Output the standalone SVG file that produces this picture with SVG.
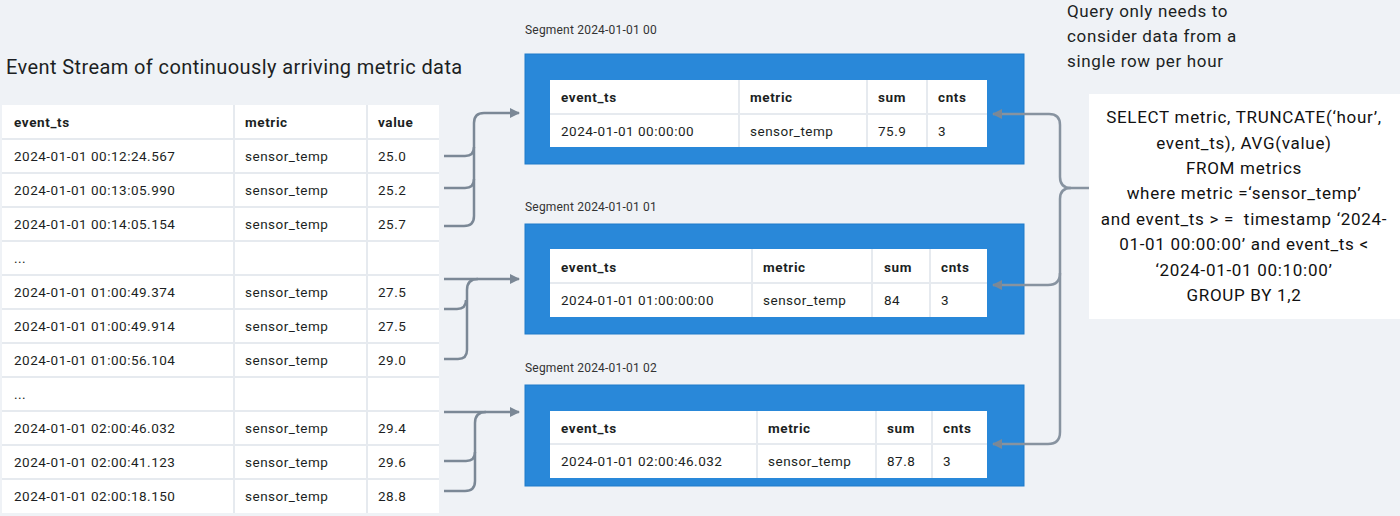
<svg xmlns="http://www.w3.org/2000/svg" width="1400" height="516" viewBox="0 0 1400 516">
<style>
text{font-family:Roboto,"Liberation Sans",sans-serif;fill:#1c1f23}
.t{font-size:13.5px;letter-spacing:0.5px}
.h{font-size:13.5px;font-weight:bold;letter-spacing:0.6px}
.seg{font-size:12px;fill:#333;letter-spacing:0.2px}
.q{font-size:17px;text-anchor:middle;letter-spacing:0.7px;fill:#111}
.n{font-size:17px;letter-spacing:0.65px}
.grid{stroke:#e6eaef;stroke-width:2;fill:none}
.box{fill:#2988d9;stroke:#1f7bc9;stroke-width:1}
.cl{fill:none;stroke:#7b8896;stroke-width:2.5}
.cr{fill:none;stroke:#8793a0;stroke-width:2.5}
</style>
<defs>
<marker id="ah" viewBox="0 0 10 10" refX="9" refY="5" markerWidth="4" markerHeight="4" orient="auto-start-reverse" markerUnits="strokeWidth">
<path d="M0,0 L10,5 L0,10 z" fill="#7b8896"/>
</marker>
</defs>
<rect width="1400" height="516" fill="#eff2f6"/>

<text x="6" y="74" style="font-size:20px;letter-spacing:0.4px">Event Stream of continuously arriving metric data</text>

<g id="stream-table">
<rect x="2" y="105" width="437" height="408" fill="#ffffff"/>
<path class="grid" d="M234,105V513M367,105V513M2,139H439M2,173H439M2,207H439M2,241H439M2,275H439M2,309H439M2,343H439M2,377H439M2,411H439M2,445H439M2,479H439"/>
<text class="h" x="14" y="127">event_ts</text><text class="h" x="245" y="127">metric</text><text class="h" x="378" y="127">value</text>
<text class="t" x="14" y="161">2024-01-01 00:12:24.567</text><text class="t" x="245" y="161">sensor_temp</text><text class="t" x="378" y="161">25.0</text>
<text class="t" x="14" y="195">2024-01-01 00:13:05.990</text><text class="t" x="245" y="195">sensor_temp</text><text class="t" x="378" y="195">25.2</text>
<text class="t" x="14" y="229">2024-01-01 00:14:05.154</text><text class="t" x="245" y="229">sensor_temp</text><text class="t" x="378" y="229">25.7</text>
<text class="t" x="14" y="263">...</text>
<text class="t" x="14" y="297">2024-01-01 01:00:49.374</text><text class="t" x="245" y="297">sensor_temp</text><text class="t" x="378" y="297">27.5</text>
<text class="t" x="14" y="331">2024-01-01 01:00:49.914</text><text class="t" x="245" y="331">sensor_temp</text><text class="t" x="378" y="331">27.5</text>
<text class="t" x="14" y="365">2024-01-01 01:00:56.104</text><text class="t" x="245" y="365">sensor_temp</text><text class="t" x="378" y="365">29.0</text>
<text class="t" x="14" y="399">...</text>
<text class="t" x="14" y="433">2024-01-01 02:00:46.032</text><text class="t" x="245" y="433">sensor_temp</text><text class="t" x="378" y="433">29.4</text>
<text class="t" x="14" y="467">2024-01-01 02:00:41.123</text><text class="t" x="245" y="467">sensor_temp</text><text class="t" x="378" y="467">29.6</text>
<text class="t" x="14" y="501">2024-01-01 02:00:18.150</text><text class="t" x="245" y="501">sensor_temp</text><text class="t" x="378" y="501">28.8</text>
</g>

<g id="segment-00">
<text class="seg" x="525" y="34">Segment 2024-01-01 00</text>
<rect class="box" x="525" y="54" width="499" height="110"/>
<rect x="550" y="80" width="437" height="67" fill="#ffffff"/>
<path class="grid" d="M550,114H987M739,80V147M867,80V147M927,80V147"/>
<text class="h" x="561" y="102">event_ts</text><text class="h" x="750" y="102">metric</text><text class="h" x="878" y="102">sum</text><text class="h" x="938" y="102">cnts</text>
<text class="t" x="561" y="136">2024-01-01 00:00:00</text><text class="t" x="750" y="136">sensor_temp</text><text class="t" x="878" y="136">75.9</text><text class="t" x="938" y="136">3</text>
</g>

<g id="segment-01">
<text class="seg" x="525" y="211">Segment 2024-01-01 01</text>
<rect class="box" x="525" y="224" width="499" height="110"/>
<rect x="550" y="249" width="437" height="68" fill="#ffffff"/>
<path class="grid" d="M550,283H987M752,249V317M872,249V317M930,249V317"/>
<text class="h" x="561" y="272">event_ts</text><text class="h" x="763" y="272">metric</text><text class="h" x="884" y="272">sum</text><text class="h" x="941" y="272">cnts</text>
<text class="t" x="561" y="305">2024-01-01 01:00:00:00</text><text class="t" x="763" y="305">sensor_temp</text><text class="t" x="884" y="305">84</text><text class="t" x="941" y="305">3</text>
</g>

<g id="segment-02">
<text class="seg" x="525" y="372">Segment 2024-01-01 02</text>
<rect class="box" x="525" y="385" width="499" height="101"/>
<rect x="550" y="411" width="437" height="67" fill="#ffffff"/>
<path class="grid" d="M550,444H987M757,411V478M876,411V478M932,411V478"/>
<text class="h" x="561" y="433">event_ts</text><text class="h" x="768" y="433">metric</text><text class="h" x="887" y="433">sum</text><text class="h" x="943" y="433">cnts</text>
<text class="t" x="561" y="466">2024-01-01 02:00:46.032</text><text class="t" x="768" y="466">sensor_temp</text><text class="t" x="887" y="466">87.8</text><text class="t" x="943" y="466">3</text>
</g>

<g id="note">
<text class="n" x="1067" y="17">Query only needs to</text>
<text class="n" x="1067" y="42">consider data from a</text>
<text class="n" x="1067" y="67">single row per hour</text>
</g>

<g id="query">
<rect x="1089" y="94" width="311" height="225" fill="#ffffff"/>
<text class="q" x="1244" y="123">SELECT metric, TRUNCATE(‘hour’,</text>
<text class="q" x="1244" y="149">event_ts), AVG(value)</text>
<text class="q" x="1244" y="174">FROM metrics</text>
<text class="q" x="1244" y="199">where metric =‘sensor_temp’</text>
<text class="q" x="1244" y="225" style="white-space:pre">and event_ts &gt; =  timestamp ‘2024-</text>
<text class="q" x="1244" y="250">01-01 00:00:00’ and event_ts &lt;</text>
<text class="q" x="1244" y="276">‘2024-01-01 00:10:00’</text>
<text class="q" x="1244" y="301">GROUP BY 1,2</text>
</g>

<g id="connectors">
<path class="cl" d="M444,226H464Q474,226 474,216V123Q474,113 484,113H519" marker-end="url(#ah)"/>
<path class="cl" d="M444,156H465Q474,156 474,147"/>
<path class="cl" d="M444,188H465Q474,188 474,179"/>
<path class="cl" d="M444,279H519" marker-end="url(#ah)"/>
<path class="cl" d="M444,359H458Q467,359 467,350V290Q467,279 478,279"/>
<path class="cl" d="M444,309H457Q466,309 466,300"/>
<path class="cl" d="M444,412H519" marker-end="url(#ah)"/>
<path class="cl" d="M444,491H465Q475,491 475,481V423Q475,412 486,412"/>
<path class="cl" d="M444,461H466Q475,461 475,452"/>
<path class="cr" d="M1089,188H1071Q1060,188 1060,177V125Q1060,114 1049,114H993" marker-end="url(#ah)"/>
<path class="cr" d="M1071,188Q1060,188 1060,199V432Q1060,444 1048,444H993" marker-end="url(#ah)"/>
<path class="cr" d="M1060,273Q1060,285 1048,285H993" marker-end="url(#ah)"/>
</g>
</svg>
